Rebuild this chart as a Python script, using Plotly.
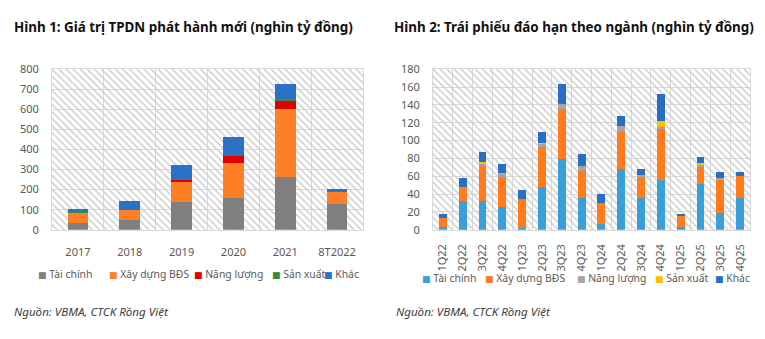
import plotly.graph_objects as go

# ---------------- data ----------------
series = ["Tài chính", "Xây dựng BĐS", "Năng lượng", "Sản xuất", "Khác"]

years = ["2017", "2018", "2019", "2020", "2021", "8T2022"]
issue_tai_chinh = [33, 50, 138, 158, 263, 128]
issue_xay_dung_bds = [52, 48, 102, 172, 339, 61]
issue_nang_luong = [0, 0, 10, 35, 40, 2]
issue_san_xuat = [1, 0, 0, 0, 10, 6]
issue_khac = [17, 45, 75, 95, 73, 6]

quarters = ["1Q22", "2Q22", "3Q22", "4Q22", "1Q23", "2Q23", "3Q23", "4Q23",
            "1Q24", "2Q24", "3Q24", "4Q24", "1Q25", "2Q25", "3Q25", "4Q25"]
mat_tai_chinh = [3.2, 32.3, 32.3, 25.9, 2.2, 48.2, 79.4, 35.9, 6.5, 68.3, 35.9, 56.0, 3.2, 51.4, 19.0, 35.9]
mat_xay_dung_bds = [9.8, 15.5, 38.7, 33.4, 31.9, 44.5, 56.1, 30.2, 23.7, 41.7, 23.7, 57.2, 12.3, 19.7, 37.0, 24.1]
mat_nang_luong = [0, 0, 3.0, 4.7, 0, 3.6, 5.0, 5.8, 0, 6.0, 2.2, 2.1, 0.5, 1.5, 1.5, 0]
mat_san_xuat = [0, 0, 1.5, 0, 0, 1.4, 0, 0, 0, 0, 0, 6.5, 0, 2.5, 0, 0]
mat_khac = [5.0, 10.1, 11.8, 10.0, 10.9, 11.9, 23.0, 12.9, 10.0, 11.6, 6.8, 30.6, 1.7, 6.8, 7.2, 5.0]

left_title = "Hình 1: Giá trị TPDN phát hành mới (nghìn tỷ đồng)"
right_title = "Hình 2: Trái phiếu đáo hạn theo ngành (nghìn tỷ đồng)"
source_text = "Nguồn: VBMA, CTCK Rồng Việt"
left_ticks = [0, 100, 200, 300, 400, 500, 600, 700, 800]
right_ticks = [0, 20, 40, 60, 80, 100, 120, 140, 160, 180]

# ---------------- style ----------------
W, H = 765, 339
FONT = "Noto Sans, Open Sans, DejaVu Sans, sans-serif"
left_colors = ["#7f7f7f", "#ff7f27", "#e00000", "#3d8b37", "#2b72c6"]
right_colors = ["#3a9fd6", "#ff7b1c", "#a5a5a5", "#ffc000", "#2a6ec4"]
GRID = "#d9d9d9"
TICKC = "#595959"

# legend item x positions (px)
left_legend_x = [36, 107, 192, 270, 322]
right_legend_x = [420, 483, 575, 653, 713]


def px(x):
    return x / W


def py(y):
    return 1 - y / H


LX = [px(52), px(363)]
RX = [px(433), px(750)]
YD = [py(232), py(64)]

fig = go.Figure()

hatch = dict(shape="\\", size=5, solidity=0.3, fgcolor="#cfcfcf", bgcolor="rgba(0,0,0,0)",
             fillmode="replace")

# hatched background (hidden base axes)
for xa, ya in (("x", "y"), ("x3", "y3")):
    fig.add_trace(go.Bar(x=[0], y=[1], width=[1], xaxis=xa, yaxis=ya, showlegend=False,
                         marker=dict(color="#cfcfcf", pattern=hatch, line=dict(width=0)),
                         hoverinfo="skip"))

left_vals = [issue_tai_chinh, issue_xay_dung_bds, issue_nang_luong, issue_san_xuat, issue_khac]
right_vals = [mat_tai_chinh, mat_xay_dung_bds, mat_nang_luong, mat_san_xuat, mat_khac]

for name, vals, col in zip(series, left_vals, left_colors):
    fig.add_trace(go.Bar(x=years, y=vals, name=name, xaxis="x2", yaxis="y2",
                         marker=dict(color=col, line=dict(width=0)), showlegend=False))
for name, vals, col in zip(series, right_vals, right_colors):
    fig.add_trace(go.Bar(x=quarters, y=vals, name=name, xaxis="x4", yaxis="y4",
                         marker=dict(color=col, line=dict(width=0)), showlegend=False))

hidden_x = dict(visible=False, range=[-0.5, 0.5], fixedrange=True)
hidden_y = dict(visible=False, range=[0, 1], fixedrange=True)


def cat_axis(over, anchor, angle, standoff):
    return dict(overlaying=over, anchor=anchor, type="category", tickson="boundaries",
                showgrid=True, gridcolor=GRID, gridwidth=1, ticks="",
                showline=True, linecolor=GRID, linewidth=1, mirror=True,
                tickangle=angle, tickfont=dict(family=FONT, size=11, color=TICKC),
                ticklabelstandoff=standoff)


def val_axis(over, anchor, rng, ticks):
    return dict(overlaying=over, anchor=anchor, range=rng, tickvals=ticks,
                showgrid=True, gridcolor=GRID, gridwidth=1, ticks="", zeroline=False,
                showline=True, linecolor=GRID, linewidth=1, mirror=True,
                tickfont=dict(family=FONT, size=11, color=TICKC),
                ticklabelstandoff=10)


fig.update_layout(
    width=W, height=H,
    margin=dict(l=0, r=0, t=0, b=0),
    paper_bgcolor="white", plot_bgcolor="white",
    barmode="stack", bargap=0.6,
    showlegend=False,
    xaxis=dict(domain=LX, anchor="y", **hidden_x),
    yaxis=dict(domain=YD, anchor="x", **hidden_y),
    xaxis3=dict(domain=RX, anchor="y3", **hidden_x),
    yaxis3=dict(domain=YD, anchor="x3", **hidden_y),
    xaxis2=cat_axis("x", "y2", 0, 12),
    yaxis2=val_axis("y", "x2", [0, 800], left_ticks),
    xaxis4=cat_axis("x3", "y4", -90, 9),
    yaxis4=val_axis("y3", "x4", [0, 180], right_ticks),
)

ann = []
ann.append(dict(text=f"<b>{left_title}</b>", x=px(12), y=py(20), xanchor="left", yanchor="middle",
                font=dict(family=FONT, size=13.4, color="#111111")))
ann.append(dict(text=f"<b>{right_title}</b>", x=px(392), y=py(20), xanchor="left", yanchor="middle",
                font=dict(family=FONT, size=13.4, color="#111111")))
for xs, cols, yy in ((left_legend_x, left_colors, 278), (right_legend_x, right_colors, 282)):
    for xpos, n, c in zip(xs, series, cols):
        ann.append(dict(text=f"<span style='color:{c};font-size:9px'>■</span> {n}",
                        x=px(xpos), y=py(yy), xanchor="left", yanchor="middle",
                        font=dict(family=FONT, size=10.4, color=TICKC)))
ann.append(dict(text=f"<i>{source_text}</i>", x=px(12), y=py(318), xanchor="left", yanchor="middle",
                font=dict(family=FONT, size=11.6, color="#404040")))
ann.append(dict(text=f"<i>{source_text}</i>", x=px(394), y=py(318), xanchor="left", yanchor="middle",
                font=dict(family=FONT, size=11.6, color="#404040")))
for a in ann:
    a.update(xref="paper", yref="paper", showarrow=False)
fig.update_layout(annotations=ann)

fig.write_html("out.html")
